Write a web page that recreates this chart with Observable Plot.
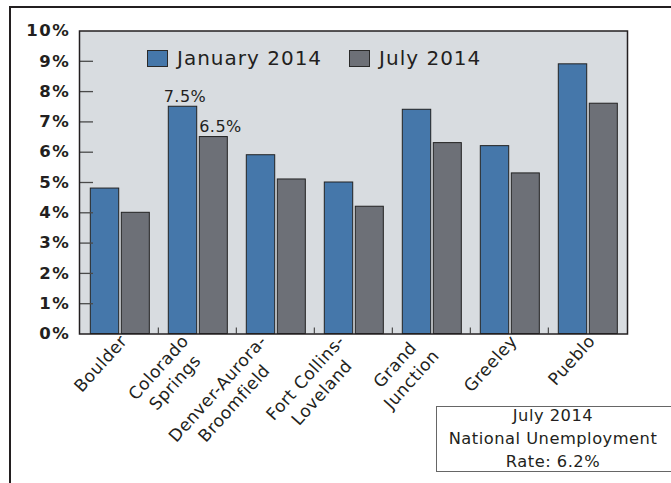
<!DOCTYPE html>
<html><head><meta charset="utf-8">
<script src="https://cdn.jsdelivr.net/npm/d3@7"></script>
<script src="https://cdn.jsdelivr.net/npm/@observablehq/plot@0.6"></script>
<style>
body{margin:0;background:#fff;}
#wrap{position:relative;width:671px;height:483px;overflow:hidden;font-family:"DejaVu Sans",sans-serif;color:#231f20;}
#wrap svg{position:absolute;left:0;top:0;}
.border{position:absolute;left:9px;top:6px;width:720px;height:600px;border-left:2.6px solid #231f20;border-top:2.6px solid #231f20;box-sizing:border-box;}
.legend{position:absolute;left:147px;top:46px;display:flex;align-items:center;font-size:20px;letter-spacing:1px;}
.legend .item{display:flex;align-items:center;}
.legend .sw{width:19px;height:15px;border:1px solid #2a2a2a;margin-right:9px;}
.note{position:absolute;left:436px;top:406px;width:240px;height:66px;border:1px solid #666;box-sizing:border-box;text-align:center;font-size:16.3px;letter-spacing:0.5px;line-height:23px;}
.note .in{position:relative;top:-3px;padding-right:6px;}
</style>
</head><body>
<div id="wrap"></div>
<script>
// ---- data ----
const cities = ["Boulder", "Colorado Springs", "Denver-Aurora-Broomfield", "Fort Collins-Loveland", "Grand Junction", "Greeley", "Pueblo"];
const cityLabels = ["Boulder", "Colorado\nSprings", "Denver-Aurora-\nBroomfield", "Fort Collins-\nLoveland", "Grand\nJunction", "Greeley", "Pueblo"];
const series = ["January 2014", "July 2014"];
const jan2014 = [4.8, 7.5, 5.9, 5.0, 7.4, 6.2, 8.9];
const jul2014 = [4.0, 6.5, 5.1, 4.2, 6.3, 5.3, 7.6];
const yTicks = [0, 1, 2, 3, 4, 5, 6, 7, 8, 9, 10];
const annotatedCities = ["Colorado Springs"];
const noteLines = ["July 2014", "National Unemployment", "Rate: 6.2%"];
const seriesColors = ["#4577aa", "#6d7077"];

// ---- build ----
const rows = cities.flatMap((c, i) => [
  {city: c, series: series[0], value: jan2014[i]},
  {city: c, series: series[1], value: jul2014[i]}
]);
const janRows = rows.filter(d => d.series === series[0]);
const julRows = rows.filter(d => d.series === series[1]);

const W = 671, H = 483, mL = 79, mR = 44, mT = 30.5, mB = 149.5;
const bw = (W - mL - mR) / cities.length;

const svg = Plot.plot({
  width: W, height: H,
  marginLeft: mL, marginRight: mR, marginTop: mT, marginBottom: mB,
  style: {fontFamily: "DejaVu Sans, sans-serif", color: "#231f20", background: "transparent", overflow: "visible"},
  x: {type: "band", domain: cities, padding: 0, axis: null},
  y: {domain: [0, 10], axis: null},
  color: {domain: series, range: seriesColors},
  marks: [
    Plot.frame({fill: "#d8dce0"}),
    Plot.barY(janRows, {x: "city", y: "value", fill: "series", stroke: "#222", strokeWidth: 1, insetLeft: 10.3, insetRight: bw - 39}),
    Plot.barY(julRows, {x: "city", y: "value", fill: "series", stroke: "#222", strokeWidth: 1, insetLeft: 41.3, insetRight: bw - 69.6}),
    Plot.tickY(yTicks.slice(1, -1), {y: d => d, stroke: "#4a4a4a", strokeWidth: 1.3, insetRight: W - mL - mR - 14}),
    Plot.ruleX(cities.slice(1), {x: d => d, dx: -bw / 2, y1: 0, y2: 0.2, stroke: "#4a4a4a", strokeWidth: 1.2}),
    Plot.frame({stroke: "#231f20", strokeWidth: 1.5}),
    Plot.axisY({ticks: yTicks, tickFormat: d => d + "%", tickSize: 0, tickPadding: 9, label: null, fontSize: 16.5, fontWeight: "bold", fill: "#231f20"}),
    Plot.text(cities, {x: d => d, y: () => 0, text: (d, i) => cityLabels[i], rotate: -48, textAnchor: "end", lineAnchor: "top", lineHeight: 1.3, fontSize: 17, fill: "#231f20"}),
    Plot.text(janRows.filter(d => annotatedCities.includes(d.city)), {x: "city", y: "value", text: d => d.value.toFixed(1) + "%", dx: -12.5, dy: -4.5, lineAnchor: "bottom", fontSize: 16, fill: "#231f20"}),
    Plot.text(julRows.filter(d => annotatedCities.includes(d.city)), {x: "city", y: "value", text: d => d.value.toFixed(1) + "%", dx: 23, dy: -5.5, lineAnchor: "bottom", fontSize: 16, fill: "#231f20"})
  ]
});

const wrap = document.getElementById("wrap");
const border = document.createElement("div");
border.className = "border";
wrap.appendChild(border);
wrap.appendChild(svg);

// letter spacing to mimic the wide type of the original
svg.querySelectorAll('g[aria-label="y-axis tick label"] text').forEach(t => t.style.letterSpacing = "1.6px");
const textGroups = svg.querySelectorAll('g[aria-label="text"]');
textGroups.forEach(g => g.querySelectorAll("text").forEach(t => t.style.letterSpacing = "0.5px"));

// category labels: centre the lines of each block, then put the top-right corner
// of the rotated block just below the axis at its category
const xs = svg.scale("x"), ys = svg.scale("y");
const svgRect = svg.getBoundingClientRect();
textGroups[0].querySelectorAll("text").forEach((t, i) => {
  const spans = [...t.querySelectorAll("tspan")];
  if (spans.length > 1) {
    const maxW = Math.max(...spans.map(s => s.getComputedTextLength()));
    t.setAttribute("text-anchor", "middle");
    spans.forEach(s => s.setAttribute("x", -maxW / 2));
  }
  const r = t.getBoundingClientRect();
  const targetRight = xs.apply(cities[i]) + xs.bandwidth / 2 + 12;
  const targetTop = ys.apply(0) - 2.5;
  const ddx = targetRight - (r.right - svgRect.left);
  const ddy = targetTop - (r.top - svgRect.top);
  t.setAttribute("transform", `translate(${ddx},${ddy}) ` + (t.getAttribute("transform") || ""));
});

// legend
const legend = document.createElement("div");
legend.className = "legend";
series.forEach((s, i) => {
  const it = document.createElement("div");
  it.className = "item";
  if (i > 0) it.style.marginLeft = "27px";
  const sw = document.createElement("div");
  sw.className = "sw";
  sw.style.background = seriesColors[i];
  const lb = document.createElement("span");
  lb.textContent = s;
  it.appendChild(sw); it.appendChild(lb);
  legend.appendChild(it);
});
wrap.appendChild(legend);

// note box
const note = document.createElement("div");
note.className = "note";
const inner = document.createElement("div");
inner.className = "in";
noteLines.forEach(l => { const d = document.createElement("div"); d.textContent = l; inner.appendChild(d); });
note.appendChild(inner);
wrap.appendChild(note);
</script>
</body></html>
